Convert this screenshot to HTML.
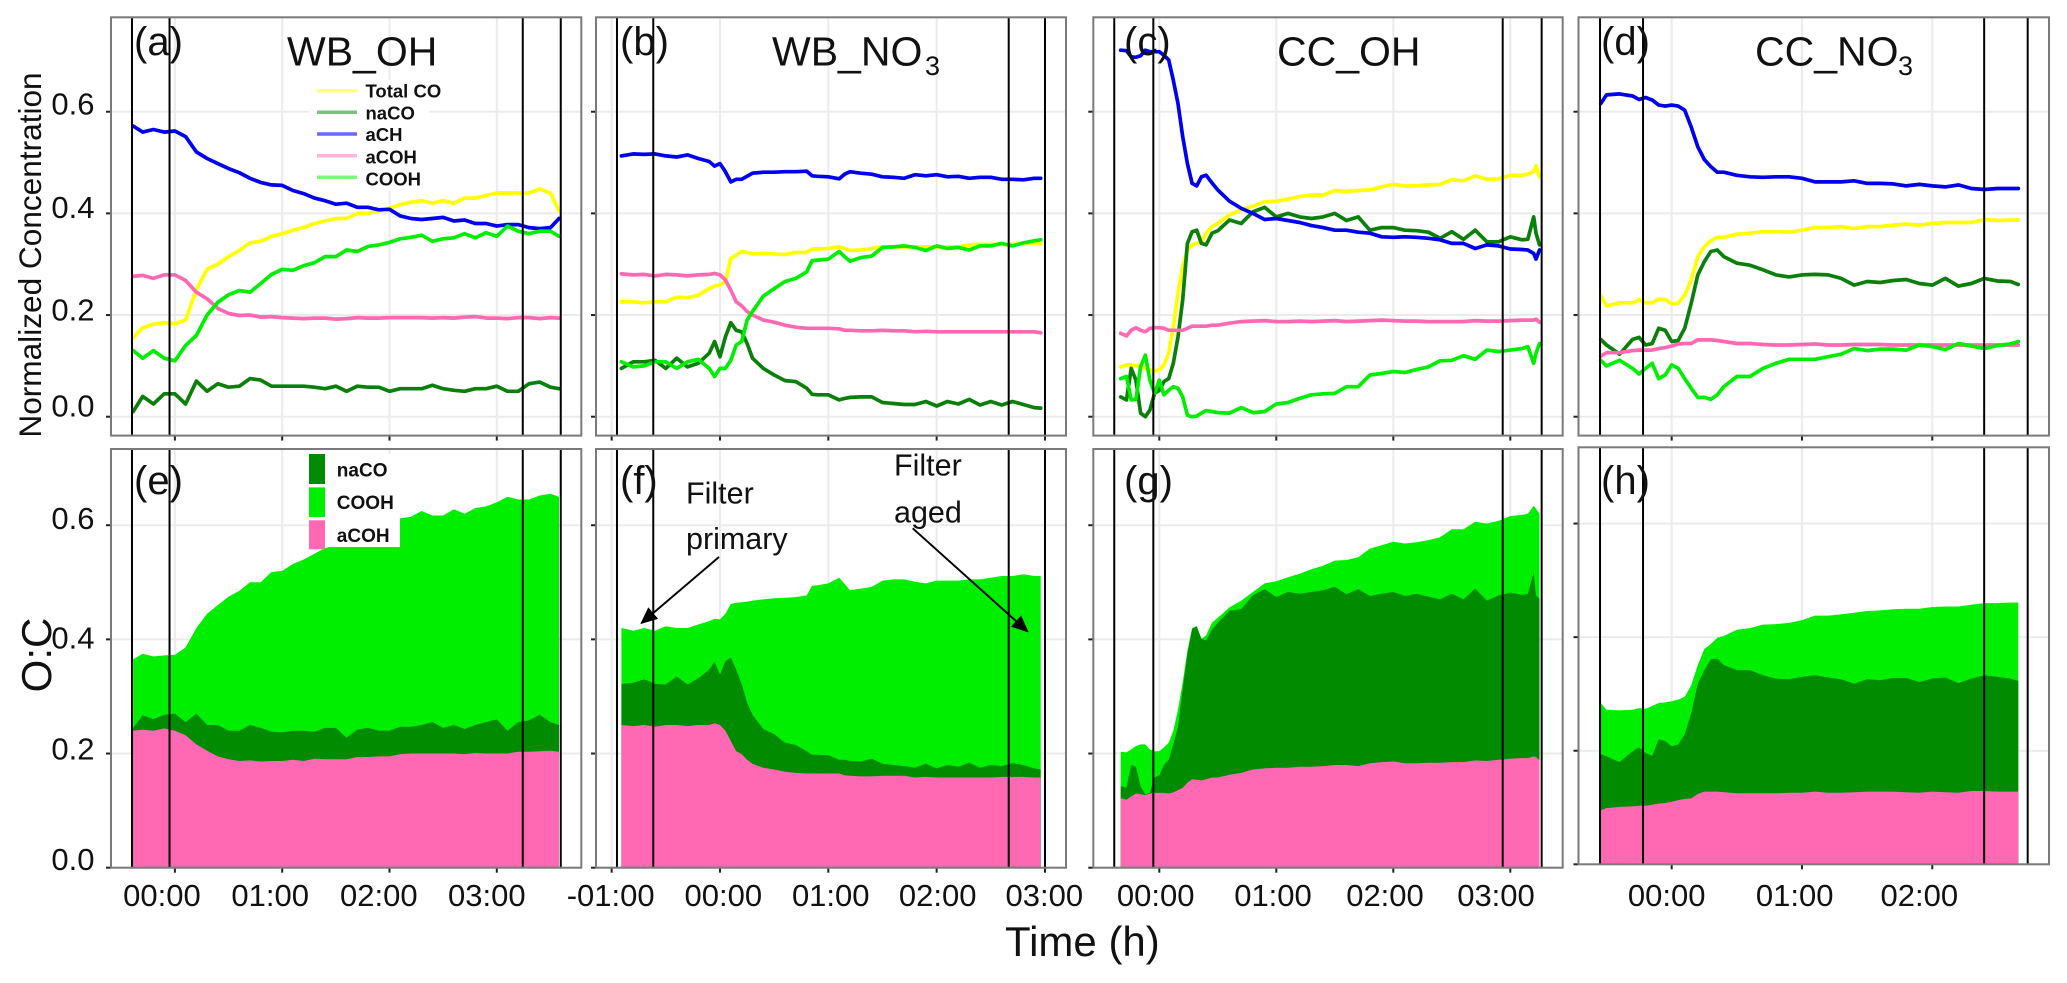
<!DOCTYPE html>
<html lang="en">
<head>
<meta charset="utf-8">
<title>Normalized concentration and O:C time series</title>
<style>
html,body{margin:0;padding:0;background:#fff;width:2067px;height:983px;overflow:hidden}
svg{display:block}
text{font-family:"Liberation Sans",sans-serif;fill:#111}
</style>
</head>
<body>
<svg id="chart" xmlns="http://www.w3.org/2000/svg" width="2067" height="983" viewBox="0 0 2067 983">
  <defs>
    <marker id="arrow-head" markerWidth="9" markerHeight="8" refX="8" refY="4" orient="auto" markerUnits="strokeWidth" viewBox="0 0 9 8">
      <path d="M0,0 L9,4 L0,8 Z" fill="#000"/>
    </marker>
  </defs>
  <g id="plots"></g>

  <g>
    <rect x="309" y="80" width="120" height="110" fill="#fff"/>
    <line x1="317" x2="357" y1="90.7" y2="90.7" stroke="#ffff80" stroke-width="3.5"/>
    <line x1="317" x2="357" y1="112.3" y2="112.3" stroke="#7fbf7f" stroke-width="3.5"/>
    <line x1="317" x2="357" y1="134" y2="134" stroke="#6a6aff" stroke-width="3.5"/>
    <line x1="317" x2="357" y1="155.7" y2="155.7" stroke="#ffb4da" stroke-width="3.5"/>
    <line x1="317" x2="357" y1="177.3" y2="177.3" stroke="#7ff77f" stroke-width="3.5"/>
    <text x="365.5" y="97.7" font-size="18.5" font-weight="bold">Total CO</text>
    <text x="365.5" y="119.3" font-size="18.5" font-weight="bold">naCO</text>
    <text x="365.5" y="141" font-size="18.5" font-weight="bold">aCH</text>
    <text x="365.5" y="163.3" font-size="18.5" font-weight="bold">aCOH</text>
    <text x="365.5" y="185.7" font-size="18.5" font-weight="bold">COOH</text>
  </g>

  <g>
    <rect x="309" y="454" width="91" height="93" fill="#fff"/>
    <rect x="309" y="454" width="16" height="30" fill="#008b00"/>
    <rect x="309" y="487.4" width="16" height="29.6" fill="#00ee00"/>
    <rect x="309" y="520.3" width="16" height="29" fill="#ff69b4"/>
    <text x="336.8" y="476.4" font-size="19" font-weight="bold">naCO</text>
    <text x="336.8" y="509" font-size="19" font-weight="bold">COOH</text>
    <text x="336.8" y="542" font-size="19" font-weight="bold">aCOH</text>
  </g>

  <g font-size="41">
    <text x="287" y="65.7" font-size="41">WB_OH</text>
    <text x="772" y="65.7" font-size="41">WB_NO</text>
    <text x="925" y="75" font-size="27">3</text>
    <text x="1277" y="65.7" font-size="41">CC_OH</text>
    <text x="1755" y="65.7" font-size="41">CC_NO</text>
    <text x="1898" y="75" font-size="27">3</text>
  </g>

  <g>
    <text x="134" y="55" font-size="40">(a)</text>
    <text x="620" y="55" font-size="40">(b)</text>
    <text x="1124" y="55" font-size="40">(c)</text>
    <text x="1601" y="55" font-size="40">(d)</text>
    <text x="134" y="494" font-size="40">(e)</text>
    <text x="620" y="494" font-size="40">(f)</text>
    <text x="1124" y="494" font-size="40">(g)</text>
    <text x="1601" y="494" font-size="40">(h)</text>
  </g>

  <g>
    <text x="686" y="503.4" font-size="30.5">Filter</text>
    <text x="686" y="549" font-size="30.5">primary</text>
    <text x="894" y="475.7" font-size="30.5">Filter</text>
    <text x="894" y="522.4" font-size="30.5">aged</text>
    <line x1="719" y1="557" x2="641.7" y2="622.9" stroke="#000" stroke-width="1.9" marker-end="url(#arrow-head)"/>
    <line x1="912.7" y1="528.3" x2="1027.3" y2="631.2" stroke="#000" stroke-width="1.9" marker-end="url(#arrow-head)"/>
  </g>

  <text transform="translate(41 255) rotate(-90)" text-anchor="middle" font-size="31.6">Normalized Concentration</text>
  <text transform="translate(51 655) rotate(-90)" text-anchor="middle" font-size="42">O:C</text>
  <text x="1005" y="956" font-size="42">Time (h)</text>
</svg>

<script>
/* ---------- shared axis values ---------- */
const topTickValues = [0, 0.2, 0.4, 0.6];
const topTickLabels = ['0.0', '0.2', '0.4', '0.6'];
const bottomTickValues = [0, 0.2, 0.4, 0.6];
const bottomTickLabels = ['0.0', '0.2', '0.4', '0.6'];

/* ---------- WB_OH: panels (a) and (e) ---------- */
const aTime = [-0.39,-0.3,-0.2,-0.1,0,0.1,0.2,0.3,0.4,0.5,0.6,0.7,0.8,0.9,1,1.1,1.2,1.3,1.4,1.5,1.6,1.7,1.8,1.9,2,2.1,2.2,2.3,2.4,2.5,2.6,2.7,2.8,2.9,3,3.1,3.2,3.3,3.4,3.5,3.58];
const aTickHours = [0, 1, 2, 3];
const aTickLabels = ['00:00', '01:00', '02:00', '03:00'];
const aFilterTimes = [-0.4, -0.05, 3.242, 3.596];
const aTotalCO = [.155,.175,.182,.185,.183,.19,.25,.29,.3,.315,.327,.342,.345,.355,.36,.367,.372,.38,.385,.39,.39,.4,.4,.405,.41,.417,.422,.425,.42,.425,.42,.43,.43,.435,.44,.44,.44,.44,.448,.44,.405];
const aNaCO = [.01,.04,.025,.045,.045,.025,.07,.05,.065,.058,.06,.075,.072,.06,.06,.06,.06,.058,.055,.06,.05,.06,.058,.058,.05,.055,.055,.055,.062,.055,.052,.05,.055,.055,.06,.05,.05,.065,.068,.058,.055];
const aACH = [.572,.56,.565,.56,.562,.551,.521,.508,.498,.488,.48,.469,.461,.456,.455,.445,.439,.43,.425,.418,.42,.412,.412,.407,.408,.395,.39,.388,.39,.392,.385,.387,.38,.38,.375,.378,.378,.372,.37,.372,.39];
const aACOH = [.276,.278,.272,.279,.279,.268,.245,.232,.213,.203,.199,.2,.196,.197,.195,.194,.193,.194,.194,.192,.193,.195,.194,.194,.195,.195,.195,.195,.194,.195,.194,.196,.197,.194,.194,.193,.195,.195,.193,.195,.194];
const aCOOH = [.13,.115,.13,.115,.11,.14,.16,.2,.225,.24,.248,.245,.262,.28,.29,.288,.297,.303,.315,.315,.328,.325,.335,.338,.343,.35,.353,.357,.345,.35,.352,.36,.352,.362,.355,.375,.365,.36,.365,.365,.355];
const eStackACOH = [.24,.242,.24,.244,.24,.232,.216,.205,.195,.19,.187,.188,.186,.187,.187,.189,.187,.191,.19,.19,.19,.194,.194,.195,.195,.199,.2,.2,.2,.2,.2,.199,.201,.2,.2,.2,.203,.203,.204,.205,.203];
const eStackNaCO = [.245,.267,.26,.268,.27,.255,.27,.25,.25,.24,.24,.25,.245,.238,.237,.24,.24,.238,.245,.245,.228,.242,.245,.24,.24,.247,.247,.25,.255,.245,.25,.243,.25,.255,.26,.24,.255,.258,.268,.255,.25];
const eStackCOOH = [.365,.375,.37,.372,.373,.386,.42,.445,.46,.475,.485,.5,.5,.518,.52,.532,.54,.55,.56,.565,.57,.575,.585,.595,.6,.612,.615,.625,.617,.617,.628,.62,.63,.633,.64,.65,.645,.645,.652,.655,.65];

/* ---------- WB_NO3: panels (b) and (f) ---------- */
const bTime = [-0.91,-0.8,-0.7,-0.6,-0.5,-0.4,-0.3,-0.2,-0.1,-0.05,0,0.05,0.1,0.15,0.2,0.25,0.3,0.4,0.5,0.6,0.7,0.8,0.85,0.9,1,1.1,1.15,1.2,1.3,1.4,1.5,1.6,1.7,1.8,1.9,2,2.1,2.2,2.3,2.4,2.5,2.6,2.7,2.8,2.9,2.96];
const bTickHours = [-1, 0, 1, 2, 3];
const bTickLabels = ['-01:00', '00:00', '01:00', '02:00', '03:00'];
const bFilterTimes = [-0.951, -0.616, 2.665, 3.0];
const bTotalCO = [.226,.226,.224,.226,.226,.235,.234,.239,.252,.257,.259,.266,.311,.318,.325,.323,.32,.321,.32,.319,.323,.323,.33,.33,.331,.334,.331,.327,.328,.331,.334,.334,.334,.334,.334,.334,.334,.334,.338,.339,.339,.339,.339,.341,.342,.34];
const bNaCO = [.095,.108,.108,.111,.095,.115,.098,.105,.125,.148,.118,.157,.185,.17,.167,.144,.115,.095,.082,.071,.069,.056,.044,.043,.043,.033,.036,.038,.039,.039,.028,.026,.024,.024,.03,.021,.03,.025,.034,.023,.03,.023,.03,.024,.018,.017];
const bACH = [.513,.517,.516,.517,.513,.511,.515,.508,.502,.493,.498,.482,.462,.467,.467,.473,.479,.481,.481,.482,.482,.483,.474,.473,.472,.468,.477,.482,.479,.477,.472,.471,.469,.476,.474,.476,.472,.473,.469,.471,.471,.467,.467,.466,.469,.469];
const bACOH = [.281,.279,.28,.277,.28,.279,.277,.279,.28,.282,.279,.269,.249,.226,.218,.207,.2,.19,.186,.18,.176,.174,.174,.174,.174,.173,.17,.17,.169,.169,.17,.169,.169,.167,.168,.167,.167,.167,.167,.167,.167,.167,.167,.167,.167,.165];
const bCOOH = [.108,.098,.1,.108,.108,.095,.108,.113,.095,.079,.095,.095,.111,.141,.148,.19,.207,.237,.252,.266,.272,.285,.307,.308,.31,.325,.315,.306,.313,.316,.333,.334,.336,.333,.327,.336,.331,.333,.328,.336,.336,.341,.336,.342,.346,.348];
const fStackACOH = [.25,.248,.25,.247,.25,.25,.248,.25,.25,.253,.25,.24,.222,.204,.199,.189,.182,.175,.172,.168,.166,.165,.165,.165,.165,.165,.162,.161,.16,.16,.161,.161,.161,.158,.159,.158,.158,.158,.158,.158,.158,.159,.159,.159,.158,.158];
const fStackNaCO = [.322,.324,.33,.322,.321,.335,.321,.332,.347,.361,.338,.362,.368,.347,.322,.289,.268,.243,.234,.219,.215,.204,.198,.198,.197,.189,.189,.187,.186,.191,.182,.18,.178,.175,.182,.174,.18,.177,.184,.175,.18,.178,.183,.18,.174,.172];
const fStackCOOH = [.42,.415,.42,.415,.423,.42,.42,.426,.432,.436,.435,.445,.462,.464,.465,.466,.468,.47,.472,.473,.474,.477,.494,.495,.498,.508,.497,.486,.489,.492,.503,.505,.505,.501,.498,.503,.503,.503,.505,.505,.508,.511,.511,.514,.511,.511];

/* ---------- CC_OH: panels (c) and (g) ---------- */
const cTime = [-0.33,-0.28,-0.24,-0.2,-0.16,-0.12,-0.08,-0.04,0,0.04,0.08,0.12,0.16,0.2,0.24,0.28,0.32,0.36,0.4,0.45,0.5,0.6,0.7,0.8,0.9,1,1.1,1.2,1.3,1.4,1.5,1.6,1.7,1.8,1.9,2,2.1,2.2,2.3,2.4,2.5,2.6,2.7,2.8,2.9,3,3.1,3.15,3.2,3.22,3.25];
const cTickHours = [0, 1, 2, 3];
const cTickLabels = ['00:00', '01:00', '02:00', '03:00'];
const cFilterTimes = [-0.385, -0.051, 2.935, 3.268];
const cTotalCO = [.098,.102,.102,.1,.102,.095,.092,.09,.092,.102,.125,.177,.243,.295,.328,.338,.341,.344,.361,.374,.38,.397,.407,.414,.423,.424,.428,.433,.436,.436,.445,.443,.445,.446,.452,.457,.454,.454,.456,.457,.466,.464,.474,.467,.468,.475,.475,.477,.482,.494,.472];
const cNaCO = [.039,.033,.095,.072,.007,0,.013,.046,.052,.069,.075,.105,.157,.23,.341,.364,.367,.341,.338,.361,.366,.387,.38,.403,.412,.393,.4,.393,.39,.393,.4,.386,.393,.367,.372,.372,.367,.366,.363,.351,.364,.349,.367,.344,.344,.354,.348,.349,.393,.361,.338];
const cACH = [.721,.72,.708,.707,.71,.721,.718,.718,.718,.711,.702,.662,.616,.551,.498,.459,.454,.472,.475,.46,.446,.424,.41,.4,.388,.39,.386,.382,.376,.372,.367,.367,.363,.361,.354,.353,.354,.353,.351,.348,.341,.341,.331,.338,.336,.33,.329,.328,.321,.31,.328];
const cACOH = [.164,.159,.17,.175,.17,.167,.174,.175,.175,.174,.17,.17,.17,.17,.174,.178,.178,.178,.178,.18,.18,.184,.187,.188,.189,.187,.187,.188,.187,.188,.189,.187,.188,.189,.19,.189,.188,.188,.187,.187,.187,.187,.189,.188,.188,.189,.19,.19,.19,.192,.186];
const cCOOH = [.075,.079,.033,.034,.098,.121,.072,.046,.072,.043,.052,.059,.056,.039,.003,0,.001,.007,.012,.01,.008,.007,.018,.008,.01,.025,.028,.036,.043,.045,.046,.059,.059,.082,.085,.089,.087,.093,.098,.11,.111,.12,.113,.131,.128,.131,.134,.138,.105,.125,.144];
const gStackACOH = [.122,.119,.125,.13,.129,.127,.13,.131,.131,.131,.13,.132,.136,.14,.149,.155,.154,.153,.155,.158,.158,.163,.166,.172,.174,.175,.175,.177,.177,.178,.18,.18,.178,.183,.185,.186,.183,.183,.184,.184,.185,.185,.188,.187,.189,.191,.192,.192,.195,.194,.188];
const gStackNaCO = [.143,.14,.18,.177,.143,.128,.131,.158,.162,.18,.189,.216,.247,.313,.374,.418,.423,.401,.398,.417,.429,.45,.453,.477,.488,.474,.483,.48,.483,.486,.492,.479,.488,.476,.48,.483,.476,.48,.475,.47,.48,.47,.489,.468,.477,.482,.478,.48,.517,.477,.471];
const gStackCOOH = [.203,.202,.207,.213,.216,.216,.207,.204,.204,.211,.219,.24,.277,.325,.38,.42,.423,.401,.407,.429,.438,.456,.468,.483,.498,.502,.509,.515,.523,.529,.538,.539,.544,.559,.565,.571,.568,.57,.574,.579,.593,.593,.606,.603,.608,.616,.618,.62,.634,.629,.62];

/* ---------- CC_NO3: panels (d) and (h) ---------- */
const dTime = [-0.545,-0.5,-0.4,-0.3,-0.25,-0.2,-0.15,-0.1,-0.05,0,0.05,0.1,0.15,0.2,0.25,0.3,0.35,0.4,0.5,0.6,0.7,0.8,0.9,1,1.1,1.2,1.3,1.4,1.5,1.6,1.7,1.8,1.9,2,2.1,2.2,2.3,2.4,2.5,2.6,2.66];
const dTickHours = [0, 1, 2];
const dTickLabels = ['00:00', '01:00', '02:00'];
const dFilterTimes = [-0.55, -0.22, 2.398, 2.732];
const dTotalCO = [.239,.218,.224,.224,.23,.224,.224,.231,.231,.222,.223,.239,.269,.315,.334,.346,.353,.353,.359,.361,.364,.364,.363,.367,.372,.372,.374,.37,.374,.374,.377,.379,.377,.38,.382,.382,.382,.388,.386,.387,.387];
const dNaCO = [.152,.141,.123,.152,.156,.141,.144,.174,.17,.148,.15,.174,.223,.279,.305,.325,.328,.315,.302,.298,.289,.279,.275,.279,.28,.279,.272,.259,.266,.264,.268,.27,.262,.259,.272,.257,.262,.272,.267,.266,.26];
const dACH = [.616,.633,.635,.631,.624,.628,.623,.613,.611,.613,.611,.603,.57,.531,.506,.492,.481,.481,.475,.472,.471,.472,.472,.469,.462,.462,.462,.464,.459,.459,.458,.454,.457,.454,.452,.456,.449,.447,.449,.449,.449];
const dACOH = [.119,.126,.126,.13,.131,.131,.131,.134,.136,.139,.143,.144,.144,.151,.151,.151,.15,.148,.144,.144,.142,.141,.141,.142,.143,.141,.141,.142,.142,.142,.141,.141,.141,.141,.141,.141,.141,.141,.141,.141,.141];
const dCOOH = [.111,.1,.111,.095,.084,.095,.105,.075,.082,.102,.095,.075,.056,.038,.038,.034,.043,.059,.079,.079,.095,.105,.113,.113,.113,.118,.123,.134,.13,.133,.133,.131,.141,.138,.132,.144,.139,.134,.14,.143,.148];
const hStackACOH = [.095,.099,.101,.102,.103,.103,.105,.107,.108,.11,.113,.115,.116,.124,.128,.128,.128,.127,.125,.125,.125,.125,.126,.126,.128,.126,.126,.127,.128,.128,.128,.127,.126,.128,.127,.126,.129,.129,.128,.128,.128];
const hStackNaCO = [.194,.19,.18,.199,.206,.196,.191,.22,.217,.208,.211,.229,.266,.318,.342,.361,.362,.351,.342,.342,.333,.327,.326,.33,.333,.329,.326,.318,.326,.324,.328,.328,.321,.327,.329,.319,.327,.333,.33,.327,.323];
const hStackCOOH = [.284,.272,.271,.272,.275,.274,.279,.284,.285,.287,.29,.295,.315,.351,.379,.388,.399,.402,.413,.416,.422,.423,.425,.43,.438,.438,.44,.443,.446,.447,.449,.45,.45,.453,.454,.454,.457,.46,.46,.461,.461];

/* ---------- layout and styling (not data) ---------- */
const SVGNS = 'http://www.w3.org/2000/svg';
const root = document.getElementById('plots');
const lineColors = {total:'#ffff00', naco:'#0a7f0a', ach:'#0000ee', acoh:'#ff69b4', cooh:'#00ee00'};
const areaColors = {cooh:'#00ee00', naco:'#008b00', acoh:'#ff69b4'};

const layoutA = {left:111, right:581.3, zero:174.9, perHour:107.3, labelShift:[-13,-12,-10.7,-10]};
const layoutB = {left:596, right:1066, zero:720, perHour:108.33, labelShift:[-1,3.3,2.4,1,-0.7]};
const layoutC = {left:1093.3, right:1562.7, zero:1159.3, perHour:117, labelShift:[-3.6,-3.3,-8.3,-14.3]};
const layoutD = {left:1578.5, right:2049, zero:1671.7, perHour:130.3, labelShift:[-5,-7.3,-13]};

const topRow = {top:17.3, bottom:435.6, yZero:416.7, yPerUnit:508.3};
const botRow = {top:449, bottom:867.7, yZero:867.7, yPerUnit:570.8};
const botRowH = {top:447.3, bottom:864.3, yZero:864.3, yPerUnit:567.9};

const topLabelNudge = [0, 5.7, 4.6, 3];
const botLabelNudge = [2.3, 6, 9, 4];

function make(tag, attrs, parent) {
  const el = document.createElementNS(SVGNS, tag);
  for (const k in attrs) el.setAttribute(k, attrs[k]);
  parent.appendChild(el);
  return el;
}

function xScale(layout) { return t => layout.zero + t * layout.perHour; }
function yScale(row) { return v => row.yZero - v * row.yPerUnit; }

function drawFrame(g, id, layout, row, tickHours, tickLabels, yValues, showX) {
  const x = xScale(layout), y = yScale(row);
  yValues.forEach(v => {
    const grid = make('line', {x1:layout.left, x2:layout.right, y1:y(v), y2:y(v), stroke:'#ebebeb', 'stroke-width':2}, g);
    
    
    const tick = make('line', {x1:layout.left - 5, x2:layout.left, y1:y(v), y2:y(v), stroke:'#222', 'stroke-width':2}, g);
    
    
  });
  tickHours.forEach((h, i) => {
    const grid = make('line', {x1:x(h), x2:x(h), y1:row.top, y2:row.bottom, stroke:'#ebebeb', 'stroke-width':2}, g);
    
    
    const tick = make('line', {x1:x(h), x2:x(h), y1:row.bottom, y2:row.bottom + 5, stroke:'#222', 'stroke-width':2}, g);
    
    
    if (showX) {
      const label = make('text', {x:x(h) + layout.labelShift[i], y:905.8, 'text-anchor':'middle', 'font-size':31}, root);
      
      
      label.textContent = tickLabels[i];
    }
  });
}

function drawBorderAndFilters(g, id, layout, row, filterTimes) {
  const x = xScale(layout);
  filterTimes.forEach(t => {
    const rule = make('line', {x1:x(t), x2:x(t), y1:row.top, y2:row.bottom, stroke:'#000', 'stroke-width':2}, g);
    
    
  });
  const frame = make('rect', {x:layout.left, y:row.top, width:layout.right - layout.left, height:row.bottom - row.top, fill:'none', stroke:'#7a7a7a', 'stroke-width':2}, g);
  
  
}

function drawLine(g, name, color, times, values, layout, row) {
  const x = xScale(layout), y = yScale(row);
  const n = Math.min(times.length, values.length);
  const pts = [];
  for (let i = 0; i < n; i++) pts.push(x(times[i]).toFixed(1) + ',' + y(values[i]).toFixed(1));
  const line = make('polyline', {points:pts.join(' '), fill:'none', stroke:color, 'stroke-width':3.7, 'stroke-linejoin':'round', 'stroke-linecap':'round'}, g);
  
  
}

function drawArea(g, name, color, times, upper, layout, row) {
  const x = xScale(layout), y = yScale(row);
  const n = Math.min(times.length, upper.length);
  const pts = [x(times[0]).toFixed(1) + ',' + row.bottom];
  for (let i = 0; i < n; i++) pts.push(x(times[i]).toFixed(1) + ',' + y(upper[i]).toFixed(1));
  pts.push(x(times[n - 1]).toFixed(1) + ',' + row.bottom);
  const area = make('polygon', {points:pts.join(' '), fill:color}, g);
  
  
}

function linePanel(id, layout, times, tickHours, tickLabels, filters, total, naco, ach, acoh, cooh) {
  const g = make('g', {}, root);
  
  
  drawFrame(g, id, layout, topRow, tickHours, tickLabels, topTickValues, false);
  drawLine(g, 'line-total-co-' + id, lineColors.total, times, total, layout, topRow);
  drawLine(g, 'line-naco-' + id, lineColors.naco, times, naco, layout, topRow);
  drawLine(g, 'line-ach-' + id, lineColors.ach, times, ach, layout, topRow);
  drawLine(g, 'line-acoh-' + id, lineColors.acoh, times, acoh, layout, topRow);
  drawLine(g, 'line-cooh-' + id, lineColors.cooh, times, cooh, layout, topRow);
  drawBorderAndFilters(g, id, layout, topRow, filters);
}

function areaPanel(id, layout, row, times, tickHours, tickLabels, filters, acoh, naco, cooh) {
  const g = make('g', {}, root);
  
  
  drawFrame(g, id, layout, row, tickHours, tickLabels, bottomTickValues, true);
  drawArea(g, 'area-cooh-' + id, areaColors.cooh, times, cooh, layout, row);
  drawArea(g, 'area-naco-' + id, areaColors.naco, times, naco, layout, row);
  drawArea(g, 'area-acoh-' + id, areaColors.acoh, times, acoh, layout, row);
  drawBorderAndFilters(g, id, layout, row, filters);
}

linePanel('a', layoutA, aTime, aTickHours, aTickLabels, aFilterTimes, aTotalCO, aNaCO, aACH, aACOH, aCOOH);
linePanel('b', layoutB, bTime, bTickHours, bTickLabels, bFilterTimes, bTotalCO, bNaCO, bACH, bACOH, bCOOH);
linePanel('c', layoutC, cTime, cTickHours, cTickLabels, cFilterTimes, cTotalCO, cNaCO, cACH, cACOH, cCOOH);
linePanel('d', layoutD, dTime, dTickHours, dTickLabels, dFilterTimes, dTotalCO, dNaCO, dACH, dACOH, dCOOH);

areaPanel('e', layoutA, botRow, aTime, aTickHours, aTickLabels, aFilterTimes, eStackACOH, eStackNaCO, eStackCOOH);
areaPanel('f', layoutB, botRow, bTime, bTickHours, bTickLabels, bFilterTimes, fStackACOH, fStackNaCO, fStackCOOH);
areaPanel('g', layoutC, botRow, cTime, cTickHours, cTickLabels, cFilterTimes, gStackACOH, gStackNaCO, gStackCOOH);
areaPanel('h', layoutD, botRowH, dTime, dTickHours, dTickLabels, dFilterTimes, hStackACOH, hStackNaCO, hStackCOOH);

const yTop = yScale(topRow);
const yBot = yScale(botRow);
topTickValues.forEach((v, i) => {
  const t = make('text', {x:94.5, y:yTop(v) + topLabelNudge[i], 'text-anchor':'end', 'font-size':31}, root);
  
  
  t.textContent = topTickLabels[i];
});
bottomTickValues.forEach((v, i) => {
  const t = make('text', {x:94.5, y:yBot(v) + botLabelNudge[i], 'text-anchor':'end', 'font-size':31}, root);
  
  
  t.textContent = bottomTickLabels[i];
});
</script>
</body>
</html>
